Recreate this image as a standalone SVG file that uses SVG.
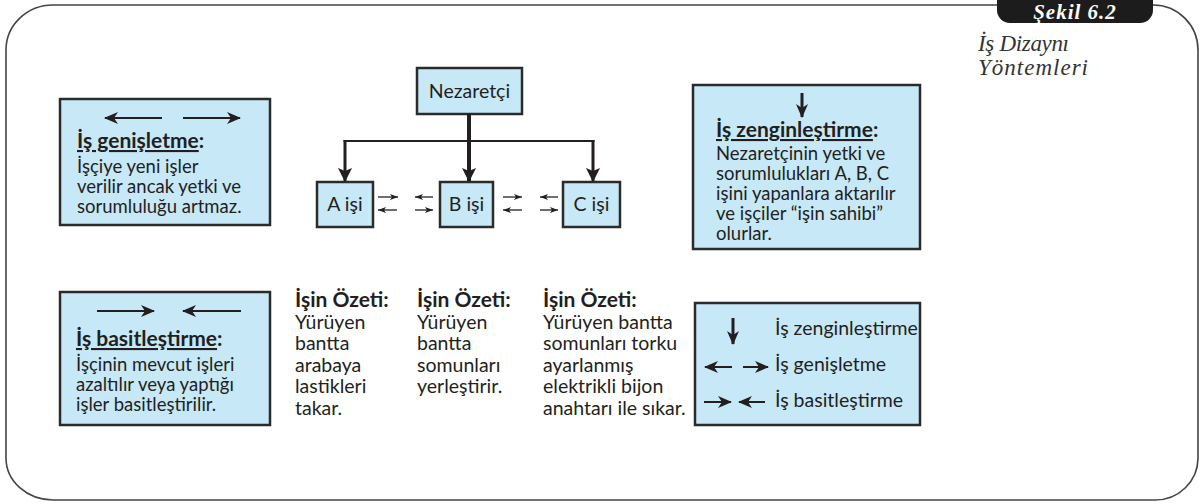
<svg xmlns="http://www.w3.org/2000/svg" width="1203" height="504" viewBox="0 0 1203 504">
<style>
.box{fill:#c7e8f7;stroke:#2b2b2b;stroke-width:2.5}
.t{font-family:Lato,"Open Sans","Liberation Sans",sans-serif;font-size:18.5px;fill:#231f20}
.o{font-size:19.5px}
.b{font-weight:700;font-size:21px}
.u{text-decoration:underline}
.ser{font-family:"Liberation Serif",serif;font-style:italic;font-size:23px;fill:#333}
.ln{stroke:#231f20;fill:none}
</style>
<defs>
<marker id="big" viewBox="0 0 14 12" refX="13" refY="6" markerWidth="14" markerHeight="12" orient="auto" markerUnits="userSpaceOnUse"><path d="M0,0 L14,6 L0,12 L4,6 z" fill="#231f20"/></marker>
<marker id="dn" viewBox="0 0 14 14" refX="13" refY="7" markerWidth="14" markerHeight="14" orient="auto" markerUnits="userSpaceOnUse"><path d="M0,0 L14,7 L0,14 L3,7 z" fill="#231f20"/></marker>
<marker id="sm" viewBox="0 0 8 6" refX="8" refY="3" markerWidth="8" markerHeight="6" orient="auto" markerUnits="userSpaceOnUse"><path d="M0,0 L8,3 L0,6 L2,3 z" fill="#231f20"/></marker>
</defs>

<g id="frame">
<path d="M6,50 A47,45 0 0 1 53,5 H1153 A45,45 0 0 1 1198,50 V458 A43,42 0 0 1 1155,500 H53 A47,42 0 0 1 6,458 Z" fill="none" stroke="#444" stroke-width="1.6"/>
<rect x="997" y="-14" width="156" height="37" rx="13" fill="#1c1c1c"/>
<text x="1075" y="19" text-anchor="middle" font-family="'Liberation Serif',serif" font-style="italic" font-weight="700" font-size="21" letter-spacing="1" fill="#fff">Şekil 6.2</text>
<text class="ser" x="978" y="51" textLength="91" lengthAdjust="spacing">İş Dizaynı</text>
<text class="ser" x="978" y="75" textLength="110" lengthAdjust="spacing">Yöntemleri</text>
</g>

<g id="genisletme">
<rect class="box" x="60" y="99" width="210" height="126"/>
<text class="t b" x="77" y="148"><tspan class="u">İş genişletme</tspan>:</text>
<text class="t" x="77" y="173">İşçiye yeni işler</text>
<text class="t" x="77" y="193">verilir ancak yetki ve</text>
<text class="t" x="77" y="213">sorumluluğu artmaz.</text>
</g>

<g id="basitlestirme">
<rect class="box" x="60" y="292" width="210" height="133"/>
<text class="t b" x="76" y="346"><tspan class="u">İş basitleştirme</tspan>:</text>
<text class="t" x="76" y="371">İşçinin mevcut işleri</text>
<text class="t" x="76" y="391">azaltılır veya yaptığı</text>
<text class="t" x="76" y="411">işler basitleştirilir.</text>
</g>

<g id="nezaretci">
<rect class="box" x="417" y="68" width="105" height="46"/>
<text class="t o" x="469.5" y="98" text-anchor="middle">Nezaretçi</text>
</g>
<g id="a-isi">
<rect class="box" x="317" y="182" width="56" height="45"/>
<text class="t o" x="345" y="211" text-anchor="middle">A işi</text>
</g>
<g id="b-isi">
<rect class="box" x="440" y="182" width="53" height="45"/>
<text class="t o" x="466.5" y="211" text-anchor="middle">B işi</text>
</g>
<g id="c-isi">
<rect class="box" x="563" y="182" width="57" height="45"/>
<text class="t o" x="591.5" y="211" text-anchor="middle">C işi</text>
</g>

<g id="zenginlestirme">
<rect class="box" x="693" y="85" width="227" height="164"/>
<text class="t b" x="716" y="137"><tspan class="u">İş zenginleştirme</tspan>:</text>
<text class="t" x="716" y="160">Nezaretçinin yetki ve</text>
<text class="t" x="716" y="180">sorumlulukları A, B, C</text>
<text class="t" x="716" y="200">işini yapanlara aktarılır</text>
<text class="t" x="716" y="220">ve işçiler “işin sahibi”</text>
<text class="t" x="716" y="240">olurlar.</text>
</g>

<g id="legend">
<rect class="box" x="695" y="303" width="225" height="122"/>
<text class="t o" x="775" y="335">İş zenginleştirme</text>
<text class="t o" x="775" y="371">İş genişletme</text>
<text class="t o" x="775" y="407">İş basitleştirme</text>
</g>

<g id="ozet1">
<text class="t b" x="295" y="307">İşin Özeti:</text>
<text class="t o" x="295" y="328.6">Yürüyen</text>
<text class="t o" x="295" y="350.2">bantta</text>
<text class="t o" x="295" y="371.8">arabaya</text>
<text class="t o" x="295" y="393.4">lastikleri</text>
<text class="t o" x="295" y="415">takar.</text>
</g>
<g id="ozet2">
<text class="t b" x="417" y="307">İşin Özeti:</text>
<text class="t o" x="417" y="328.6">Yürüyen</text>
<text class="t o" x="417" y="350.2">bantta</text>
<text class="t o" x="417" y="371.8">somunları</text>
<text class="t o" x="417" y="393.4">yerleştirir.</text>
</g>
<g id="ozet3">
<text class="t b" x="543" y="307">İşin Özeti:</text>
<text class="t o" x="543" y="328.6">Yürüyen bantta</text>
<text class="t o" x="543" y="350.2">somunları torku</text>
<text class="t o" x="543" y="371.8">ayarlanmış</text>
<text class="t o" x="543" y="393.4">elektrikli bijon</text>
<text class="t o" x="543" y="415">anahtarı ile sıkar.</text>
</g>

<g id="connectors" class="ln">
<line x1="469" y1="114" x2="469" y2="181" stroke-width="4" marker-end="url(#dn)"/>
<line x1="343.5" y1="141" x2="594.5" y2="141" stroke-width="2"/>
<line x1="345" y1="140" x2="345" y2="181" stroke-width="3" marker-end="url(#dn)"/>
<line x1="593" y1="140" x2="593" y2="181" stroke-width="3" marker-end="url(#dn)"/>
<line x1="378" y1="197" x2="398" y2="197" stroke-width="1.3" marker-end="url(#sm)"/>
<line x1="433" y1="197" x2="415" y2="197" stroke-width="1.3" marker-end="url(#sm)"/>
<line x1="397" y1="210" x2="378" y2="210" stroke-width="1.3" marker-end="url(#sm)"/>
<line x1="415" y1="210" x2="433" y2="210" stroke-width="1.3" marker-end="url(#sm)"/>
<line x1="503" y1="197" x2="522" y2="197" stroke-width="1.3" marker-end="url(#sm)"/>
<line x1="558" y1="197" x2="540" y2="197" stroke-width="1.3" marker-end="url(#sm)"/>
<line x1="522" y1="210" x2="503" y2="210" stroke-width="1.3" marker-end="url(#sm)"/>
<line x1="540" y1="210" x2="558" y2="210" stroke-width="1.3" marker-end="url(#sm)"/>
<line x1="162" y1="118" x2="105" y2="118" stroke-width="2" marker-end="url(#big)"/>
<line x1="183" y1="118" x2="240" y2="118" stroke-width="2" marker-end="url(#big)"/>
<line x1="97" y1="311" x2="154" y2="311" stroke-width="2" marker-end="url(#big)"/>
<line x1="241" y1="311" x2="183" y2="311" stroke-width="2" marker-end="url(#big)"/>
<line x1="802" y1="93" x2="802" y2="117" stroke-width="3" marker-end="url(#big)"/>
<line x1="733" y1="318" x2="733" y2="344" stroke-width="3" marker-end="url(#big)"/>
<line x1="732" y1="367" x2="705" y2="367" stroke-width="2" marker-end="url(#big)"/>
<line x1="743" y1="367" x2="768" y2="367" stroke-width="2" marker-end="url(#big)"/>
<line x1="704" y1="402" x2="731" y2="402" stroke-width="2" marker-end="url(#big)"/>
<line x1="765" y1="402" x2="739" y2="402" stroke-width="2" marker-end="url(#big)"/>
</g>
</svg>
